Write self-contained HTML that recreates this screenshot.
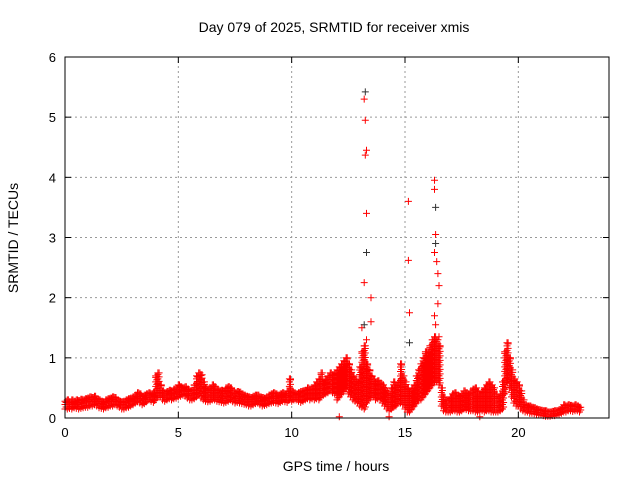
<!DOCTYPE html>
<html><head><meta charset="utf-8"><style>
body{margin:0;background:#fff;}
svg{display:block;font-family:"Liberation Sans",sans-serif;}
</style></head><body>
<svg id="chart" width="640" height="480">
<rect width="640" height="480" fill="#fff"/>
<text x="334" y="32" text-anchor="middle" font-size="14" fill="#000">Day 079 of 2025, SRMTID for receiver xmis</text>
<text x="336" y="471" text-anchor="middle" font-size="14" fill="#000">GPS time / hours</text>
<text transform="translate(18,238) rotate(-90)" text-anchor="middle" font-size="14" fill="#000">SRMTID / TECUs</text>
<g id="grid"></g>
<g id="ticks"></g>
<g id="marks"></g>
<rect x="65" y="57" width="544" height="361" fill="none" stroke="#000" stroke-width="1"/>
</svg>
<script>
const xTicks=[0,5,10,15,20];
const yTicks=[0,1,2,3,4,5,6];
const sampleStep=0.1;
const lo=[.15,.15,.16,.15,.17,.16,.15,.16,.17,.18,
.18,.2,.2,.22,.2,.17,.16,.15,.17,.18,
.2,.2,.22,.2,.18,.15,.15,.17,.18,.2,
.22,.25,.27,.25,.22,.24,.27,.3,.28,.26,
.3,.35,.35,.3,.28,.3,.32,.3,.32,.33,
.35,.36,.38,.36,.33,.3,.3,.32,.35,.38,
.33,.3,.28,.27,.28,.3,.3,.28,.27,.26,
.25,.26,.28,.3,.27,.25,.26,.25,.24,.23,
.22,.2,.2,.22,.24,.25,.22,.2,.21,.22,
.24,.25,.26,.25,.24,.26,.28,.27,.26,.3,
.28,.3,.3,.28,.26,.28,.3,.32,.3,.32,
.3,.32,.3,.35,.38,.4,.42,.45,.42,.4,
.3,.35,.4,.45,.5,.4,.35,.3,.28,.25,
.2,.18,.15,.25,.3,.35,.35,.3,.32,.3,
.25,.2,.15,.12,.15,.18,.2,.25,.25,.22,
.15,.1,.1,.15,.2,.25,.3,.3,.35,.4,
.45,.5,.55,.6,.6,.55,.2,.12,.1,.1,
.1,.12,.12,.1,.1,.12,.15,.14,.12,.12,
.12,.1,.1,.12,.12,.1,.12,.12,.1,.1,
.1,.1,.12,.15,.4,.6,.5,.35,.25,.2,
.2,.15,.12,.1,.1,.08,.08,.07,.06,.05,
.05,.04,.03,.03,.03,.04,.04,.05,.06,.08,
.1,.1,.12,.12,.11,.12,.12,.1];
const hi=[.28,.3,.27,.3,.28,.3,.29,.31,.3,.32,
.33,.35,.34,.36,.32,.3,.28,.27,.3,.32,
.33,.35,.34,.3,.28,.27,.28,.3,.32,.33,
.35,.38,.42,.4,.36,.38,.4,.42,.4,.42,
.7,.75,.55,.45,.42,.44,.46,.45,.48,.5,
.55,.52,.5,.52,.48,.45,.46,.55,.7,.75,
.72,.6,.5,.48,.5,.55,.52,.48,.45,.46,
.45,.5,.52,.5,.45,.42,.44,.43,.4,.38,
.36,.35,.34,.36,.38,.38,.35,.34,.33,.35,
.38,.4,.42,.4,.38,.4,.42,.4,.45,.65,
.45,.42,.4,.42,.44,.45,.46,.5,.48,.5,
.55,.6,.65,.75,.6,.65,.7,.75,.72,.75,
.8,.85,.9,.95,1.0,.9,.8,.7,.65,.6,
.85,1.1,1.2,.9,.8,.7,.65,.6,.62,.58,
.55,.5,.45,.4,.5,.6,.55,.6,.9,.7,
.6,.5,.45,.5,.55,.7,.8,.9,1.0,1.1,
1.1,1.2,1.3,1.35,1.3,1.2,.5,.35,.3,.3,
.35,.4,.42,.38,.36,.4,.45,.42,.4,.45,
.48,.5,.45,.4,.45,.5,.55,.6,.55,.5,
.4,.35,.4,.6,1.1,1.25,1.0,.8,.65,.6,
.55,.45,.3,.22,.2,.2,.18,.17,.15,.14,
.13,.12,.12,.1,.1,.11,.12,.12,.14,.16,
.22,.2,.22,.21,.2,.22,.2,.18];
const spikeT=[13.2,13.25,13.3,13.25,13.3,13.2,13.5,13.5,13.1,13.3,15.15,15.15,15.2,16.3,16.3,16.35,16.3,16.4,16.45,16.5,16.45,16.3,16.35,16.5,12.1,14.3,18.3];
const spikeV=[5.3,4.95,4.45,4.37,3.4,2.25,2.0,1.6,1.5,1.3,3.6,2.62,1.75,3.95,3.8,3.05,2.75,2.6,2.4,2.2,1.9,1.7,1.55,1.35,0.02,0.02,0.02];
const blackT=[13.25,13.3,16.35,16.35,15.2,13.2];
const blackV=[5.42,2.75,3.5,2.9,1.25,1.55];

const X0=65,X1=609,Y0=418,Y1=57,XMAX=24,YMAX=6;
const xs=v=>X0+v/XMAX*(X1-X0);
const ys=v=>Y0-v/YMAX*(Y0-Y1);
const NS="http://www.w3.org/2000/svg";
function mk(tag,attrs,parent){const e=document.createElementNS(NS,tag);for(const k in attrs)e.setAttribute(k,attrs[k]);parent.appendChild(e);return e;}
const grid=document.getElementById('grid'),ticks=document.getElementById('ticks'),marks=document.getElementById('marks');
xTicks.forEach(t=>{const x=xs(t);
 if(t>0){const g=mk('line',{x1:x,x2:x,y1:Y0,y2:Y1,stroke:'#999','stroke-dasharray':'2,3'},grid);
 
 }
 mk('line',{x1:x,x2:x,y1:Y0,y2:Y0-6,stroke:'#000'},ticks);
 mk('line',{x1:x,x2:x,y1:Y1,y2:Y1+6,stroke:'#000'},ticks);
 const l=mk('text',{x:x,y:Y0+19,'text-anchor':'middle','font-size':13},ticks);l.textContent=t;
 
 
});
yTicks.forEach(t=>{const y=ys(t);
 if(t>0&&t<6){const g=mk('line',{x1:X0,x2:X1,y1:y,y2:y,stroke:'#999','stroke-dasharray':'2,3'},grid);
 
 }
 mk('line',{x1:X0,x2:X0+6,y1:y,y2:y,stroke:'#000'},ticks);
 mk('line',{x1:X1,x2:X1-6,y1:y,y2:y,stroke:'#000'},ticks);
 const l=mk('text',{x:X0-9,y:y+5,'text-anchor':'end','font-size':13},ticks);l.textContent=t;
 
 
});
function cross(x,y){return `M${(x-3.5).toFixed(1)} ${y.toFixed(1)}h7M${x.toFixed(1)} ${(y-3.5).toFixed(1)}v7`;}
let d='';
for(let i=0;i<lo.length;i++){
 for(let k=0;k<2;k++){
  const t=(i+k/2)*sampleStep;
  const a=ys(lo[i]),b=ys(hi[i]);
  for(let y=a-k*2;y>=b;y-=4.5) d+=cross(xs(t),y);
  d+=cross(xs(t),b);
 }
}
for(let i=0;i<spikeT.length;i++) d+=cross(xs(spikeT[i]),ys(spikeV[i]));
const p=mk('path',{d:d,stroke:'#ff0000','stroke-width':1,fill:'none'},marks);


let db='';
for(let i=0;i<blackT.length;i++) db+=cross(xs(blackT[i]),ys(blackV[i]));
const pb=mk('path',{d:db,stroke:'#333','stroke-width':1,fill:'none'},marks);


</script>
</body></html>
